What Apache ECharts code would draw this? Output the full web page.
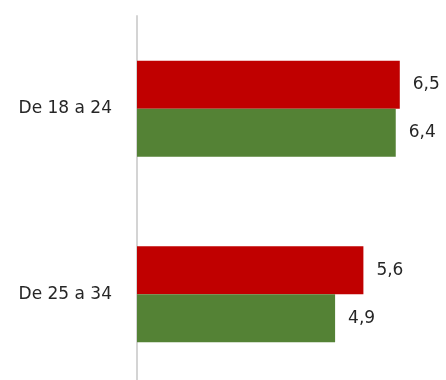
<!DOCTYPE html>
<html>
<head>
<meta charset="utf-8">
<script src="https://cdn.jsdelivr.net/npm/echarts@6/dist/echarts.min.js"></script>
<style>html,body{margin:0;padding:0;background:#fff}#c{width:446px;height:380px}</style>
</head>
<body>
<div id="c"></div>
<script>
var categories = ["De 18 a 24", "De 25 a 34"];
var redValues = [6.5, 5.6];
var greenValues = [6.4, 4.9];

var chart = echarts.init(document.getElementById('c'), null, {renderer: 'canvas'});
var fmt = function (p) { return String(p.value).replace('.', ','); };
var labelStyle = {show: true, position: 'right', distance: 13, formatter: fmt, color: '#262626', fontFamily: 'DejaVu Sans', fontSize: 17};
chart.setOption({
  animation: false,
  grid: {left: 137, top: 16, width: 283, height: 371, containLabel: false, outerBoundsMode: 'none'},
  xAxis: {type: 'value', min: 0, max: 7, show: false},
  yAxis: {
    type: 'category', data: categories, inverse: true,
    axisLine: {show: true, lineStyle: {color: '#d4d4d4', width: 2}},
    axisTick: {show: false},
    axisLabel: {color: '#262626', fontFamily: 'DejaVu Sans', fontSize: 17, margin: 25},
    splitLine: {show: false}
  },
  series: [
    {type: 'bar', data: redValues, barWidth: 48, barGap: '0%', itemStyle: {color: '#C00000'}, label: labelStyle},
    {type: 'bar', data: greenValues, barWidth: 48, barGap: '0%', itemStyle: {color: '#548235'}, label: labelStyle}
  ]
});
</script>
</body>
</html>
